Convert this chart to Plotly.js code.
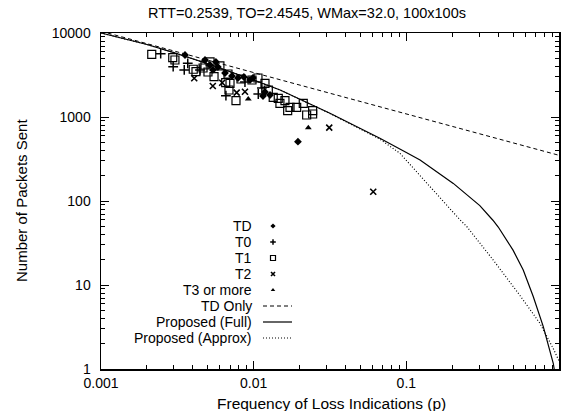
<!DOCTYPE html>
<html>
<head>
<meta charset="utf-8">
<script src="https://cdn.plot.ly/plotly-3.0.1.min.js"></script>
<style>html,body{margin:0;padding:0;background:#fff;}#chart{width:561px;height:411px;}</style>
</head>
<body>
<div id="chart"></div>
<script>
// ---- data ----
const chartTitle = "RTT=0.2539, TO=2.4545, WMax=32.0, 100x100s";
const xTitle = "Frequency of Loss Indications (p)";
const yTitle = "Number of Packets Sent";
const xTickVals = [0.001, 0.01, 0.1, 1];
const xTickText = ["0.001", "0.01", "0.1", "1"];
const yTickVals = [1, 10, 100, 1000, 10000];
const yTickText = ["1", "10", "100", "1000", "10000"];

// TD events (diamond)
const tdP = [0.00355, 0.0048, 0.00518, 0.00541, 0.00566, 0.00583, 0.00649, 0.00721, 0.00789, 0.00863, 0.00946, 0.00989, 0.01186, 0.0128, 0.01151, 0.0195];
const tdN = [5470, 4770, 4160, 3630, 4520, 3940, 3340, 3077, 2912, 2995, 2757, 2912, 1985, 1828, 1778, 508];
// T0 (plus)
const t0P = [0.00246, 0.00297, 0.00351, 0.0037, 0.00445, 0.00658, 0.00877, 0.01072, 0.01132];
const t0N = [5675, 3970, 3630, 4355, 3630, 1794, 2610, 1879, 2215];
// T1 (box)
const t1P = [0.00215, 0.00295, 0.00305, 0.00402, 0.00419, 0.0048, 0.00518, 0.0055, 0.00656, 0.00689, 0.0070, 0.00766, 0.01186, 0.01247, 0.01343, 0.01449, 0.01486, 0.01603, 0.0167, 0.0173, 0.01913, 0.02113, 0.02224, 0.02434, 0.02434, 0.00466, 0.00502, 0.00601, 0.00679, 0.00826, 0.00975, 0.01067];
const t1N = [5575, 5080, 4770, 3700, 3460, 4160, 4520, 3020, 2560, 2096, 2518, 1564, 2518, 2096, 1717, 1670, 1456, 1564, 1189, 1305, 1305, 1456, 1056, 1189, 1086, 3830, 3435, 4050, 3250, 2833, 2757, 2912];
// T2 (x)
const t2P = [0.00408, 0.00622, 0.00774, 0.00877, 0.0054, 0.03126, 0.0607];
const t2N = [2890, 2560, 1947, 2000, 2340, 746, 129];
// T3 or more (triangle)
const t3P = [0.0228, 0.00922];
const t3N = [746, 1638];

// model curves
const tdOnlyP = [0.001, 0.01, 0.1, 1];
const tdOnlyN = [10500, 3400, 1085, 350];
const fullP = [0.001, 0.002, 0.003, 0.005, 0.01, 0.0149, 0.0316, 0.05, 0.0671, 0.1, 0.123, 0.203, 0.274, 0.303, 0.369, 0.4, 0.5, 0.583, 0.678, 0.789, 0.917, 0.93];
const fullN = [10000, 7300, 5850, 4300, 2750, 2096, 1107, 730, 558, 377, 308, 162, 103, 88, 59, 49, 26, 15.1, 7.3, 3.2, 1.17, 1.0];
const approxP = [0.001, 0.002, 0.003, 0.005, 0.01, 0.0149, 0.0316, 0.05, 0.0671, 0.0908, 0.143, 0.166, 0.224, 0.248, 0.371, 0.555, 0.75, 0.917, 1];
const approxN = [10000, 7300, 5850, 4300, 2750, 2096, 1100, 715, 545, 370, 148, 108, 60, 50, 19.8, 7.5, 3.5, 1.75, 1.25];

const legendLabels = ["TD", "T0", "T1", "T2", "T3 or more", "TD Only", "Proposed (Full)", "Proposed (Approx)"];

// ---- styling / construction ----
const FONT = "Liberation Sans, Arial, Helvetica, sans-serif";
const symTD = {symbol: 'diamond', size: 6, color: '#000'};
const symT0 = {symbol: 'cross-thin-open', size: 7, color: '#000', line: {width: 1.5, color: '#000'}};
const symT1 = {symbol: 'square-open', size: 8, color: '#000', line: {width: 1.2, color: '#000'}};
const symT2 = {symbol: 'x-thin-open', size: 6, color: '#000', line: {width: 1.6, color: '#000'}};
const symT3 = {symbol: 'triangle-up', size: 6, color: '#000'};
const lineFull = {color: '#000', width: 1.2};
const lineTD = {color: '#000', width: 1, dash: '4px,3px'};
const lineApprox = {color: '#000', width: 1.2, dash: '1px,2px'};

const traces = [
  {x: tdOnlyP, y: tdOnlyN, mode: 'lines', line: lineTD},
  {x: approxP, y: approxN, mode: 'lines', line: lineApprox},
  {x: fullP, y: fullN, mode: 'lines', line: lineFull},
  {x: t1P, y: t1N, mode: 'markers', marker: symT1},
  {x: t0P, y: t0N, mode: 'markers', marker: symT0},
  {x: t2P, y: t2N, mode: 'markers', marker: symT2},
  {x: tdP, y: tdN, mode: 'markers', marker: symTD},
  {x: t3P, y: t3N, mode: 'markers', marker: symT3},
];

// legend (label text left of sample, as in the reference)
const plotL = 101, plotR = 559, plotT = 33, plotB = 369;
const fx = px => (px - plotL) / (plotR - plotL);
const fy = py => 1 - (py - plotT) / (plotB - plotT);
const rowY = i => fy(226 + i * 16);
const legSyms = [symTD, symT0, symT1, symT2, symT3];
const annotations = [];
legendLabels.forEach((lab, i) => {
  annotations.push({xref: 'paper', yref: 'paper', x: fx(254), y: rowY(i), text: lab, showarrow: false,
    xanchor: 'right', yanchor: 'middle', font: {family: FONT, size: 14, color: '#000'}});
});
legSyms.forEach((s, i) => {
  const m = Object.assign({}, s, {size: Math.max(4, s.size - 3)});
  traces.push({x: [fx(273)], y: [rowY(i)], xaxis: 'x2', yaxis: 'y2', mode: 'markers', marker: m, cliponaxis: false});
});
[lineTD, lineFull, lineApprox].forEach((ln, j) => {
  const yy = rowY(5 + j);
  traces.push({x: [fx(263), fx(292)], y: [yy, yy], xaxis: 'x2', yaxis: 'y2', mode: 'lines', line: ln, cliponaxis: false});
});
annotations.push({xref: 'paper', yref: 'paper', x: fx(331), y: fy(403), text: xTitle, showarrow: false,
  xanchor: 'center', yanchor: 'middle', font: {family: FONT, size: 15.5, color: '#000'}});
annotations.push({xref: 'paper', yref: 'paper', x: fx(21), y: 0.5, text: yTitle, showarrow: false, textangle: -90,
  xanchor: 'center', yanchor: 'middle', font: {family: FONT, size: 15, color: '#000'}});

const minorVals = [];
for (let e = -3; e <= 4; e++) for (let k = 2; k <= 9; k++) minorVals.push(k * Math.pow(10, e));

const axisCommon = {
  type: 'log', showgrid: false, zeroline: false, showline: true, linecolor: '#000', linewidth: 1.5,
  mirror: 'allticks', ticks: 'inside', ticklen: 8, tickwidth: 1, tickcolor: '#000',
  tickfont: {family: FONT, size: 14, color: '#000'},
  minor: {ticks: 'inside', ticklen: 4, tickwidth: 1, tickcolor: '#000', tickvals: minorVals, showgrid: false}
};
const layout = {
  width: 561, height: 411,
  margin: {l: plotL, r: 561 - plotR, t: plotT, b: 411 - plotB, pad: 0},
  paper_bgcolor: '#fff', plot_bgcolor: '#fff',
  showlegend: false,
  title: {text: chartTitle, x: 307 / 561, xanchor: 'center', y: 1 - 13 / 411, yanchor: 'middle',
    font: {family: FONT, size: 14.5, color: '#000'}},
  xaxis: Object.assign({}, axisCommon, {range: [-3, 0], tickvals: xTickVals, ticktext: xTickText, ticklabelstandoff: 1}),
  yaxis: Object.assign({}, axisCommon, {range: [0, 4], tickvals: yTickVals, ticktext: yTickText, ticklabelstandoff: 6}),
  xaxis2: {overlaying: 'x', range: [0, 1], visible: false, fixedrange: true},
  yaxis2: {overlaying: 'y', range: [0, 1], visible: false, fixedrange: true},
  annotations: annotations
};
Plotly.newPlot('chart', traces, layout, {staticPlot: true, displayModeBar: false});
</script>
</body>
</html>
